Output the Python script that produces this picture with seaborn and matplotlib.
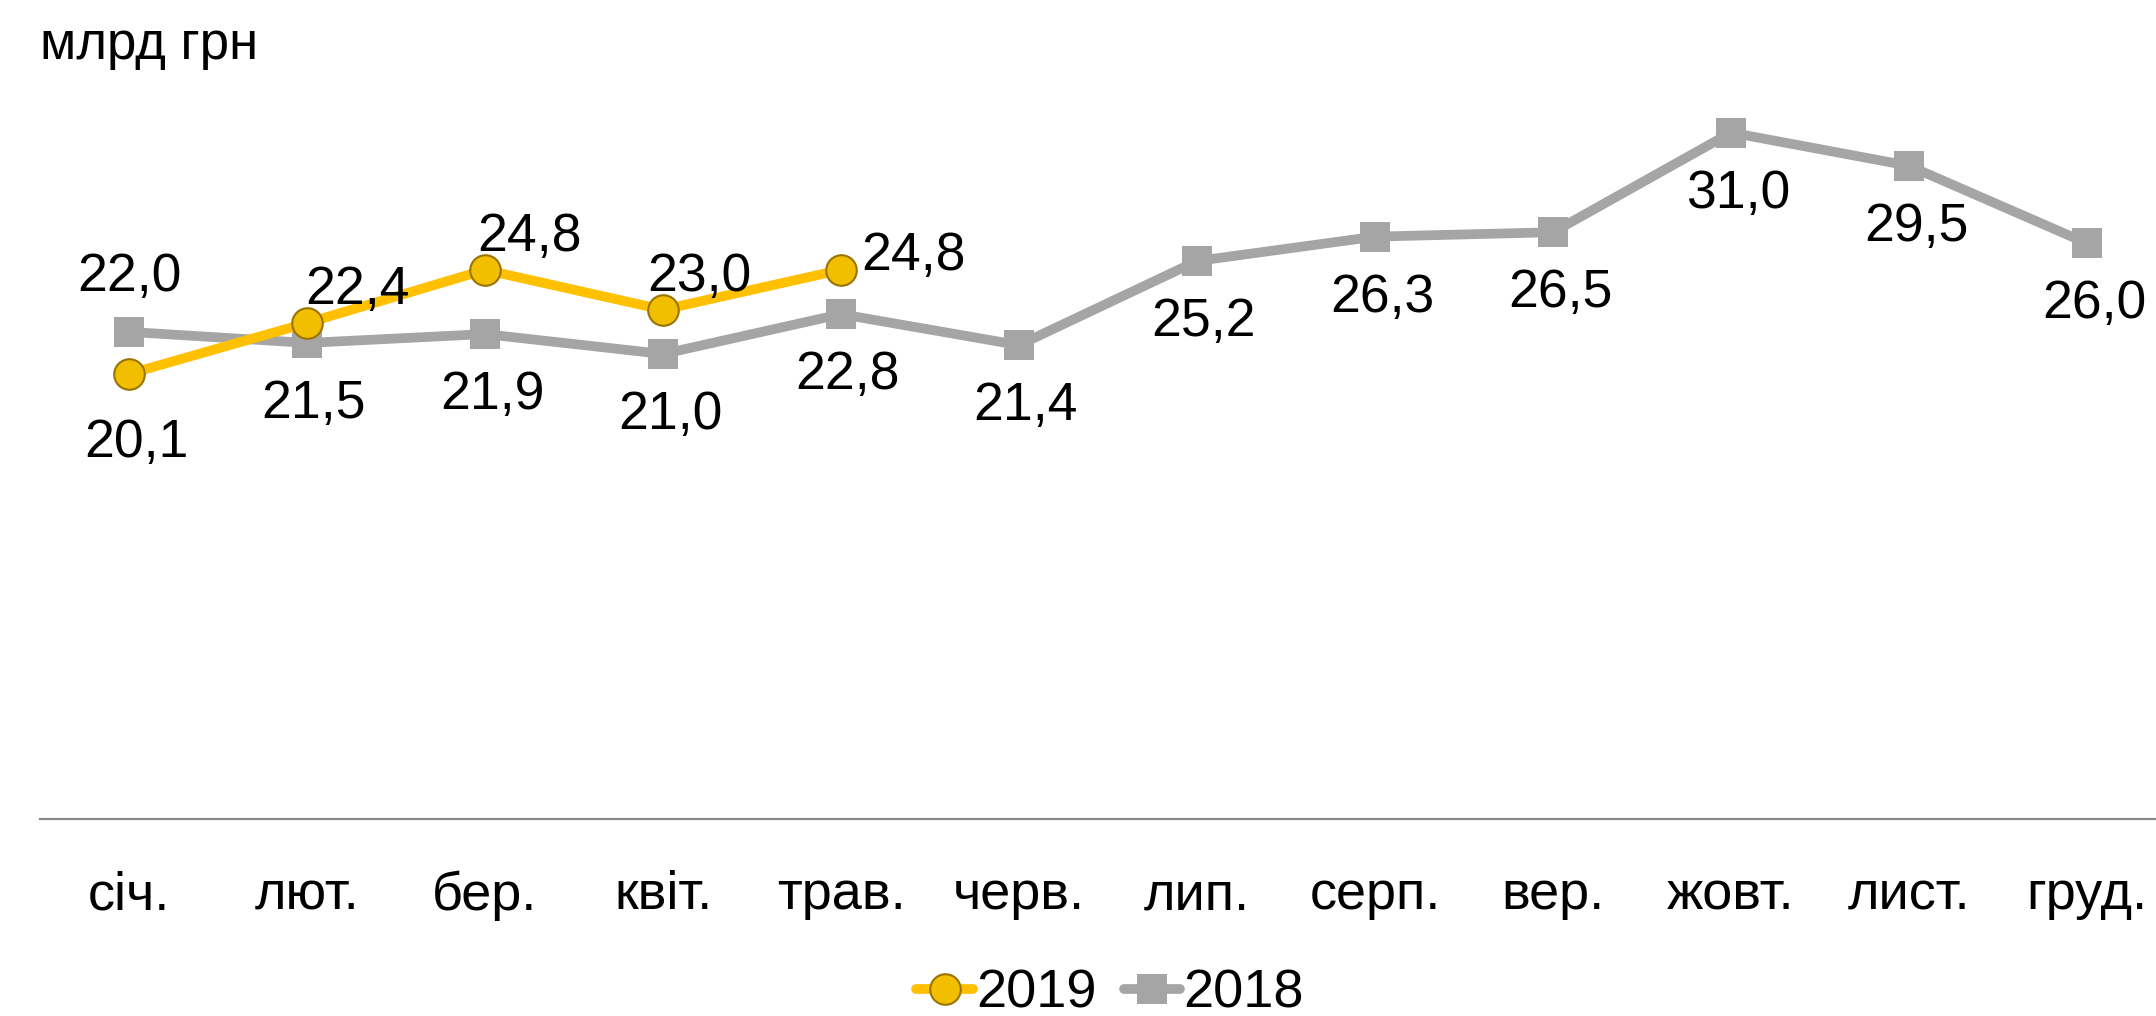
import matplotlib
matplotlib.use("Agg")
import matplotlib.pyplot as plt
import pandas as pd
import seaborn as sns

MONTHS = ["січ.", "лют.", "бер.", "квіт.", "трав.", "черв.",
          "лип.", "серп.", "вер.", "жовт.", "лист.", "груд."]
VALUES_2018 = [22.0, 21.5, 21.9, 21.0, 22.8, 21.4, 25.2, 26.3, 26.5, 31.0, 29.5, 26.0]
VALUES_2019 = [20.1, 22.4, 24.8, 23.0, 24.8]
UNIT = "млрд грн"

GOLD = "#FFC000"
GRAY = "#A5A5A5"

# label offsets in pixels (dx, dy), per point
OFF_2018 = [(0, 55)] + [(7, -61)] * 11
OFF_2019 = [(7, -69), (50, 33), (44, 33), (36, 33), (72, 14)]

sns.set_theme(style="white")
plt.rcParams["font.family"] = ["Liberation Sans", "DejaVu Sans"]
plt.rcParams["text.color"] = "black"

df18 = pd.DataFrame({"month": MONTHS, "value": VALUES_2018})
df19 = pd.DataFrame({"month": MONTHS[:len(VALUES_2019)], "value": VALUES_2019})

fig = plt.figure(figsize=(21.56, 10.16), dpi=100)
ax = fig.add_axes([40 / 2156, (1016 - 819) / 1016, 2136 / 2156, 775 / 1016])

sns.lineplot(data=df18, x="month", y="value", ax=ax, color=GRAY, lw=7,
             marker="s", markersize=22, markeredgewidth=0, label="2018",
             zorder=2)
sns.lineplot(data=df19, x="month", y="value", ax=ax, color=GOLD, lw=7,
             marker="o", markersize=22, markerfacecolor="#F2BE00",
             markeredgecolor="#9A7400", markeredgewidth=1.5, label="2019",
             zorder=3)

for i, v in enumerate(VALUES_2018):
    ax.annotate(f"{v:.1f}".replace(".", ","), (MONTHS[i], v),
                xytext=OFF_2018[i], textcoords="offset pixels",
                ha="center", va="center", fontsize=38.5, color="black")
for i, v in enumerate(VALUES_2019):
    ax.annotate(f"{v:.1f}".replace(".", ","), (MONTHS[i], v),
                xytext=OFF_2019[i], textcoords="offset pixels",
                ha="center", va="center", fontsize=38.5, color="black")

ax.set_xlim(-0.5, 11.5)
ax.set_ylim(0, 35)
ax.set_xlabel("")
ax.set_ylabel("")
ax.set_yticks([])
ax.tick_params(axis="x", length=0, pad=37, labelsize=39, colors="black")
for s in ["top", "left", "right"]:
    ax.spines[s].set_visible(False)
ax.spines["bottom"].set_color("#898989")
ax.spines["bottom"].set_linewidth(1.6)
ax.spines["bottom"].set_clip_on(False)

fig.text(40 / 2156, 1 - 45 / 1016, UNIT, fontsize=38, ha="left", va="center",
         color="black")

handles, labels = ax.get_legend_handles_labels()
order = [labels.index("2019"), labels.index("2018")]
ax.legend([handles[k] for k in order], [labels[k] for k in order],
          loc="center", bbox_to_anchor=(1110 / 2156, 22 / 1016),
          bbox_transform=fig.transFigure,
          ncol=2, frameon=False, fontsize=39, handlelength=1.05, handletextpad=0.05,
          columnspacing=0.5, labelcolor="black")

fig.savefig("out.png", dpi=100)
